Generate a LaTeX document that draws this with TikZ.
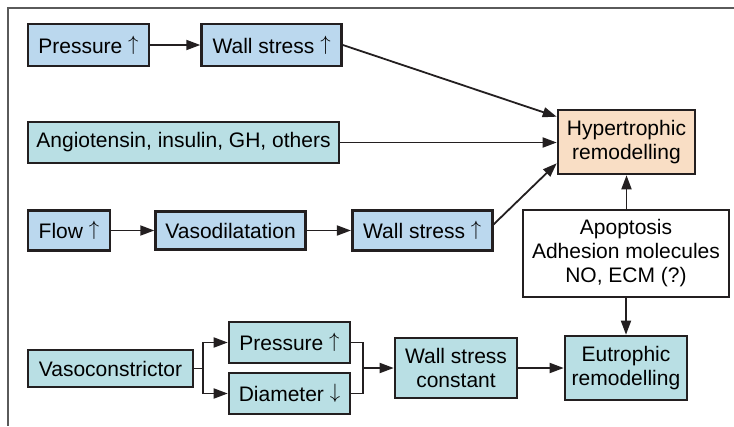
\documentclass[tikz,border=0pt]{standalone}
\usepackage{fontspec}
\setmainfont{Liberation Sans}
\usepackage{tikz}
\usetikzlibrary{arrows.meta, positioning, calc}
\definecolor{fBlue}{HTML}{BBD8EE}
\definecolor{fTeal}{HTML}{B9DFE4}
\definecolor{fPeach}{HTML}{F9DEC5}
\definecolor{bdr}{HTML}{231F20}
\definecolor{frameC}{HTML}{5A5A5A}
\newcommand{\boxfont}{\fontsize{21}{24}\selectfont}
\newcommand{\upar}{\raisebox{0.14em}{$\uparrow$}}
\newcommand{\downar}{\raisebox{0.14em}{$\downarrow$}}
\tikzset{
  B/.style={draw=bdr, line width=2.6pt, font=\boxfont, align=center,
    inner xsep=4pt, inner ysep=2pt},
  blue/.style={B, fill=fBlue},
  teal/.style={B, fill=fTeal},
  A/.style={-{Triangle[length=14pt,width=10pt]}, line width=1.8pt, draw=bdr},
  L/.style={line width=1.8pt, draw=bdr},
}

\begin{document}
\begin{tikzpicture}[x=1pt, y=-1pt]
\useasboundingbox (0,0) rectangle (734,426);

% ── frame: top and left rule only ───────────────────────────────────────────
\draw[frameC, line width=1.4pt] (734,8) -- (8,8) -- (8,426);

% ── pressure route ──────────────────────────────────────────────────────────
\node[blue, minimum width=121pt, minimum height=42pt] (pr1) at (88.5,45) {Pressure \upar};
\node[blue, minimum width=140pt, minimum height=42pt, right=50pt of pr1] (ws1) {Wall stress \upar};
\draw[A] (pr1) -- (ws1);

% ── humoral factors ─────────────────────────────────────────────────────────
\node[teal, minimum width=311pt, minimum height=41pt] (ang) at (183.5,142.5) {Angiotensin, insulin, GH, others};

% ── flow route ──────────────────────────────────────────────────────────────
\node[blue, minimum width=82pt, minimum height=40pt] (flow) at (69,230.5) {Flow \upar};
\node[blue, minimum width=150pt, minimum height=38pt, right=43pt of flow] (vdil) {Vasodilatation};
\node[blue, minimum width=140pt, minimum height=40pt, right=44pt of vdil] (ws2) {Wall stress \upar};
\draw[A] (flow) -- (vdil);
\draw[A] (vdil) -- (ws2);

% ── outcomes ────────────────────────────────────────────────────────────────
\node[B, fill=fPeach, minimum width=137pt, minimum height=64pt] (hyp) at (626.5,142) {Hypertrophic\\remodelling};
\node[B, fill=white, line width=2.2pt, minimum width=206pt, minimum height=87pt] (apo) at (626,253.5)
  {Apoptosis\\Adhesion molecules\\NO, ECM (?)};
\node[teal, minimum width=122pt, minimum height=64pt] (eut) at (626,368) {Eutrophic\\remodelling};

\draw[A] (ws1.east) -- ($(hyp.north west)+(0,8)$);
\draw[A] (ang.east) -- (ang.east -| hyp.west);
\draw[A] ($(ws2.east)+(0,-6)$) -- ($(hyp.south west)+(0,-12)$);
\draw[A] (apo.north -| hyp.south) -- (hyp.south);
\draw[A] (apo.south -| eut.north) -- (eut.north);

% ── vasoconstrictor route ───────────────────────────────────────────────────
\node[teal, minimum width=165pt, minimum height=37pt] (vcon) at (110.5,368.5) {Vasoconstrictor};
\node[teal, minimum width=121pt, minimum height=41pt] (pr2) at (289.5,342.5) {Pressure \upar};
\node[teal, minimum width=121pt, minimum height=41pt] (dia) at (289.5,393.5) {Diameter \downar};
\node[teal, minimum width=122pt, minimum height=60pt] (wsc) at (456,368) {Wall stress\\constant};

\draw[L] (vcon.east) -- ++(9,0) coordinate (vsplit);
\draw[A] (vsplit) |- (pr2.west);
\draw[A] (vsplit) |- (dia.west);
\coordinate (merge) at ($(pr2.east)!0.5!(dia.east)+(12,0)$);
\draw[L] (pr2.east) -| (merge) |- (dia.east);
\draw[A] (merge) -- (wsc.west);
\draw[A] (wsc) -- (eut);

\end{tikzpicture}
\end{document}
